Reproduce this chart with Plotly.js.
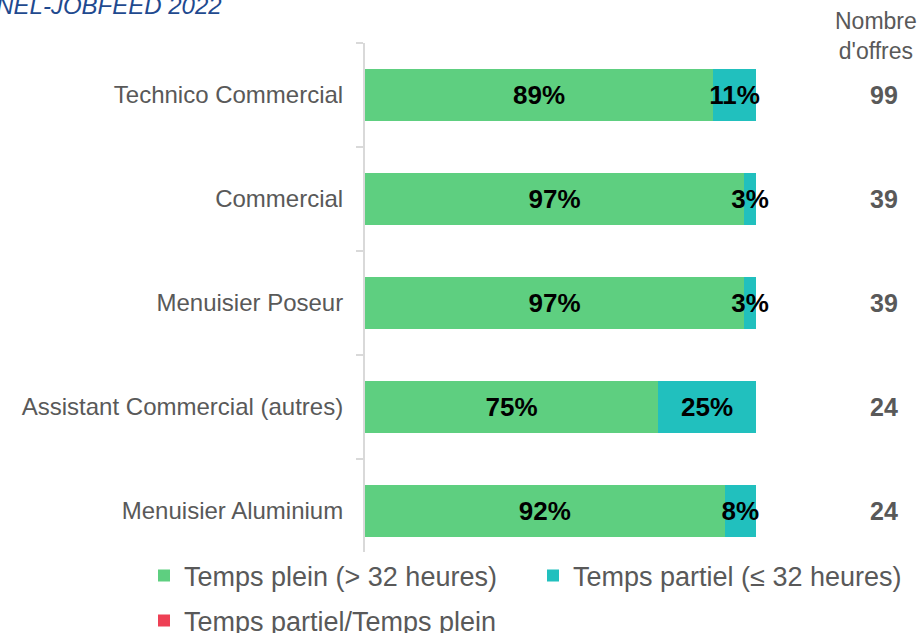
<!DOCTYPE html>
<html>
<head>
<meta charset="utf-8">
<script src="https://cdn.plot.ly/plotly-3.0.1.min.js"></script>
<style>
    html, body { margin: 0; padding: 0; background: #fff; }
    #chart { width: 924px; height: 633px; }
</style>
</head>
<body>
<div id="chart"></div>
<script>
// Données
const metiers = ['Technico Commercial', 'Commercial', 'Menuisier Poseur', 'Assistant Commercial (autres)', 'Menuisier Aluminium'];
const tempsPlein = [0.89, 0.97, 0.97, 0.75, 0.92];
const tempsPartiel = [0.11, 0.03, 0.03, 0.25, 0.08];
const tempsMixte = [null, null, null, null, null];
const nbOffres = [99, 39, 39, 24, 24];

const FONT = 'Arial, "Liberation Sans", sans-serif';
const GRIS = '#595959';

// zone de tracé en pixels (pour convertir en coordonnées "paper")
const PLOT_TOP = 43, PLOT_BOTTOM = 563, PLOT_LEFT = 365, PLOT_RIGHT = 756;
const py = px => (PLOT_BOTTOM - px) / (PLOT_BOTTOM - PLOT_TOP);
const pxX = px => (px - PLOT_LEFT) / (PLOT_RIGHT - PLOT_LEFT);

function pct(arr) {
    return arr.map(v => (v === null ? '' : Math.round(v * 100) + '%'));
}

const barStyle = {
    type: 'bar',
    orientation: 'h',
    y: metiers,
    textposition: 'inside',
    insidetextanchor: 'middle',
    textangle: 0,
    constraintext: 'none',
    cliponaxis: false,
    textfont: { family: FONT, size: 26, color: '#000000', weight: 'bold' },
    hoverinfo: 'skip'
};

const traces = [
    {
        ...barStyle,
        name: 'Temps plein (> 32 heures)',
        x: tempsPlein,
        text: pct(tempsPlein),
        marker: { color: '#5ECF80' },
        legend: 'legend'
    },
    {
        ...barStyle,
        name: 'Temps partiel (≤ 32 heures)',
        x: tempsPartiel,
        text: pct(tempsPartiel),
        marker: { color: '#21C0BE' },
        legend: 'legend2'
    },
    {
        ...barStyle,
        name: 'Temps partiel/Temps plein',
        x: tempsMixte,
        text: pct(tempsMixte),
        marker: { color: '#EE4055' },
        legend: 'legend3'
    }
];

// colonne "Nombre d'offres" à droite
const annotations = metiers.map((m, i) => ({
    xref: 'paper', yref: 'y',
    x: pxX(884), y: m,
    text: '<b>' + nbOffres[i] + '</b>',
    showarrow: false,
    xanchor: 'center',
    font: { family: FONT, size: 25, color: GRIS }
}));

annotations.push({
    xref: 'paper', yref: 'paper',
    x: pxX(876), y: py(36),
    text: "Nombre<br>d'offres",
    showarrow: false,
    xanchor: 'center', yanchor: 'middle',
    align: 'center',
    font: { family: FONT, size: 23, color: GRIS }
});

// titre coupé en haut à gauche
annotations.push({
    xref: 'paper', yref: 'paper',
    x: pxX(224), y: py(5),
    text: '<i>PANEL-JOBFEED 2022</i>',
    showarrow: false,
    xanchor: 'right', yanchor: 'middle',
    font: { family: FONT, size: 24, color: '#1F4A8F' }
});

const legendFont = { family: FONT, size: 27, color: GRIS };
const legendBase = {
    orientation: 'h',
    xref: 'container', yref: 'container',
    xanchor: 'left', yanchor: 'middle',
    font: legendFont
};

const layout = {
    width: 924,
    height: 633,
    barmode: 'stack',
    bargap: 0.5,
    paper_bgcolor: '#ffffff',
    plot_bgcolor: '#ffffff',
    margin: { l: PLOT_LEFT, r: 924 - PLOT_RIGHT, t: PLOT_TOP, b: 633 - PLOT_BOTTOM, autoexpand: false },
    font: { family: FONT, color: GRIS },
    xaxis: {
        range: [0, 1],
        showgrid: false,
        zeroline: false,
        showticklabels: false,
        showline: false,
        fixedrange: true
    },
    yaxis: {
        autorange: 'reversed',
        showgrid: false,
        zeroline: false,
        showline: true,
        linecolor: '#D9D9D9',
        linewidth: 2,
        ticks: 'outside',
        tickson: 'boundaries',
        ticklen: 7,
        tickwidth: 2,
        tickcolor: '#D9D9D9',
        ticklabelstandoff: 15,
        tickfont: { family: FONT, size: 24, color: GRIS },
        fixedrange: true
    },
    showlegend: true,
    legend: { ...legendBase, x: 144 / 924, y: 1 - 576 / 633 },
    legend2: { ...legendBase, x: 533 / 924, y: 1 - 576 / 633 },
    legend3: { ...legendBase, x: 144 / 924, y: 1 - 621 / 633 },
    annotations: annotations
};

Plotly.newPlot('chart', traces, layout, { displayModeBar: false, responsive: false });
</script>
</body>
</html>
